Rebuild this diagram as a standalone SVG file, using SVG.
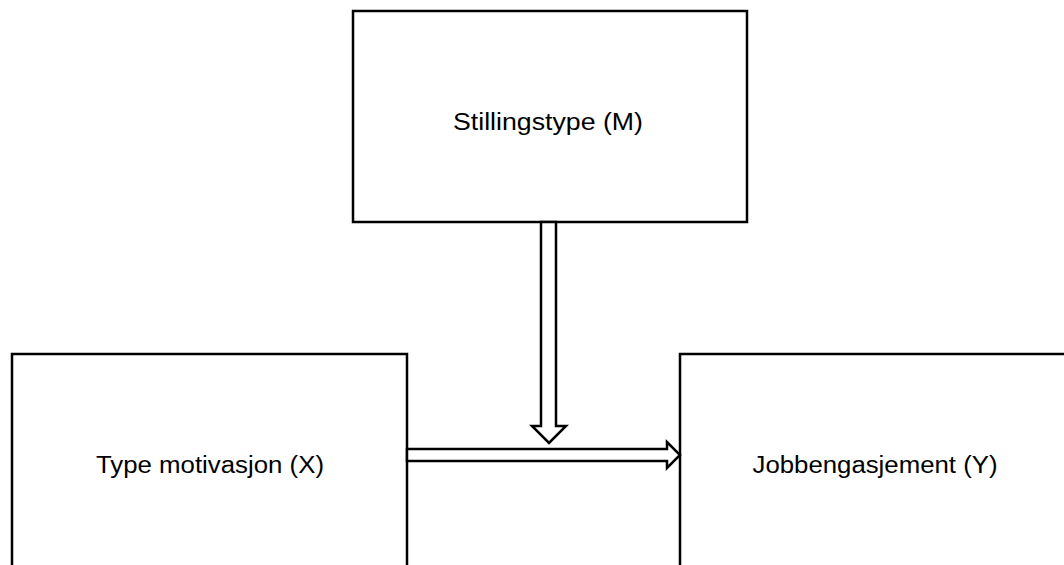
<svg xmlns="http://www.w3.org/2000/svg" width="1064" height="565" viewBox="0 0 1064 565">
<style>
.box{fill:#fff;stroke:#000;stroke-width:2.5}
.arr{fill:#fff;stroke:#000;stroke-width:2.5;stroke-linejoin:miter}
.lbl{font-family:"Liberation Sans",Arial,sans-serif;font-size:23.5px;fill:#000;text-anchor:middle}
</style>
<rect width="1064" height="565" fill="#fff"/>
<g id="node-m">
<rect class="box" x="353" y="11" width="394" height="211"/>
<text class="lbl" x="548" y="130" textLength="190" lengthAdjust="spacingAndGlyphs">Stillingstype (M)</text>
</g>
<g id="node-x">
<rect class="box" x="12" y="354" width="395" height="230"/>
<text class="lbl" x="210" y="473" textLength="228" lengthAdjust="spacingAndGlyphs">Type motivasjon (X)</text>
</g>
<g id="node-y">
<rect class="box" x="680" y="354" width="400" height="230"/>
<text class="lbl" x="875" y="473" textLength="245" lengthAdjust="spacingAndGlyphs">Jobbengasjement (Y)</text>
</g>
<g id="connectors">
<polygon class="arr" points="541,222 541,426 532,426 549,443 566,426 556,426 556,222"/>
<polygon class="arr" points="407,449 667,449 667,442 680,455 667,468 667,461 407,461"/>
</g>
</svg>
